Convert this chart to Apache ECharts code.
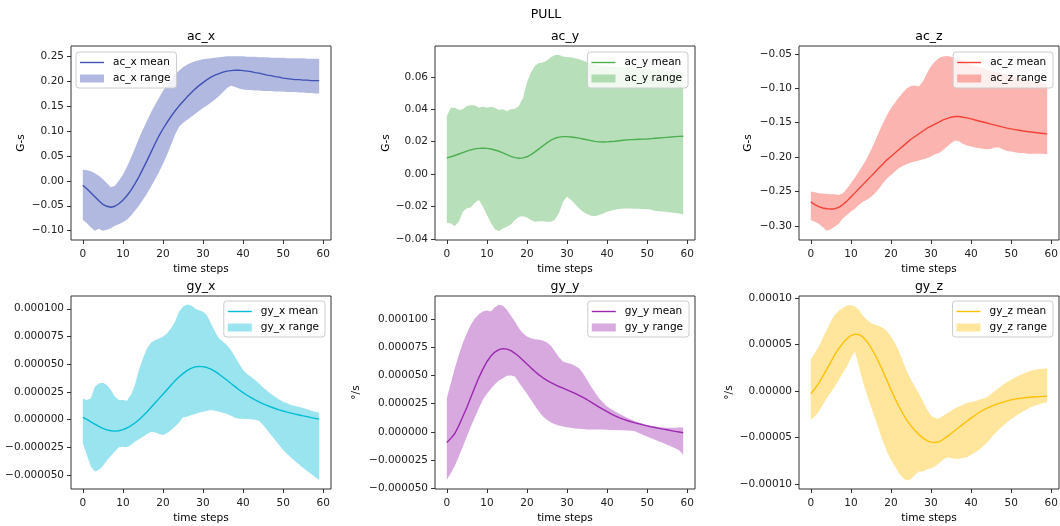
<!DOCTYPE html>
<html><head><meta charset="utf-8">
<script src="https://cdn.jsdelivr.net/npm/echarts@6.0.0/dist/echarts.min.js"></script>
<style>html,body{margin:0;padding:0;background:#fff}#c{width:1060px;height:526px}</style>
</head><body><div id="c"></div>
<script>
// ---------------- data ----------------
const steps = [0,1,2,3,4,5,6,7,8,9,10,11,12,13,14,15,16,17,18,19,20,21,22,23,24,25,26,27,28,29,30,31,32,33,34,35,36,37,38,39,40,41,42,43,44,45,46,47,48,49,50,51,52,53,54,55,56,57,58,59];
const xTicks = [0,10,20,30,40,50,60];

// ac_x (G-s)
const acx_mean = [-0.009,-0.016,-0.024,-0.032,-0.040,-0.047,-0.051,-0.053,-0.051,-0.046,
 -0.039,-0.030,-0.019,-0.006,0.008,0.024,0.040,0.057,0.074,0.090,
 0.104,0.117,0.129,0.140,0.150,0.159,0.168,0.176,0.184,0.191,
 0.197,0.203,0.208,0.212,0.215,0.218,0.220,0.221,0.222,0.222,
 0.221,0.220,0.219,0.217,0.216,0.214,0.212,0.211,0.209,0.208,
 0.206,0.205,0.204,0.203,0.203,0.202,0.202,0.201,0.201,0.201];
const acx_upper = [0.022,0.021,0.019,0.015,0.010,0.003,-0.005,-0.013,-0.010,0.000,
 0.012,0.028,0.046,0.065,0.085,0.103,0.120,0.137,0.152,0.166,
 0.180,0.192,0.203,0.213,0.221,0.228,0.233,0.237,0.240,0.242,
 0.244,0.245,0.246,0.247,0.248,0.249,0.250,0.250,0.250,0.250,
 0.250,0.249,0.249,0.249,0.248,0.248,0.248,0.247,0.247,0.247,
 0.247,0.246,0.246,0.246,0.246,0.246,0.245,0.245,0.245,0.245];
const acx_lower = [-0.078,-0.085,-0.093,-0.100,-0.096,-0.100,-0.098,-0.095,-0.090,-0.087,
 -0.083,-0.078,-0.070,-0.060,-0.050,-0.038,-0.026,-0.012,0.002,0.017,
 0.034,0.052,0.072,0.092,0.108,0.116,0.122,0.128,0.134,0.140,
 0.146,0.151,0.157,0.163,0.170,0.178,0.186,0.191,0.188,0.185,
 0.183,0.182,0.182,0.181,0.181,0.180,0.180,0.180,0.179,0.179,
 0.179,0.178,0.178,0.178,0.177,0.177,0.176,0.176,0.175,0.175];

// ac_y (G-s)
const acy_mean = [0.0100,0.0107,0.0115,0.0124,0.0133,0.0142,0.0150,0.0156,0.0159,0.0160,
 0.0159,0.0155,0.0149,0.0141,0.0131,0.0120,0.0110,0.0102,0.0098,0.0100,
 0.0107,0.0120,0.0137,0.0156,0.0175,0.0193,0.0209,0.0221,0.0228,0.0231,
 0.0231,0.0229,0.0226,0.0222,0.0217,0.0212,0.0207,0.0202,0.0199,0.0198,
 0.0199,0.0201,0.0203,0.0206,0.0209,0.0211,0.0213,0.0214,0.0215,0.0216,
 0.0217,0.0219,0.0221,0.0223,0.0225,0.0227,0.0229,0.0231,0.0233,0.0234];
const acy_upper = [0.0358,0.0410,0.0410,0.0395,0.0400,0.0420,0.0424,0.0424,0.0410,0.0416,
 0.0410,0.0416,0.0410,0.0395,0.0400,0.0390,0.0400,0.0403,0.0420,0.0470,
 0.0565,0.0627,0.0668,0.0685,0.0689,0.0700,0.0720,0.0734,0.0734,0.0726,
 0.0720,0.0720,0.0714,0.0708,0.0700,0.0690,0.0680,0.0675,0.0670,0.0668,
 0.0666,0.0664,0.0662,0.0660,0.0658,0.0656,0.0654,0.0652,0.0650,0.0648,
 0.0646,0.0644,0.0642,0.0640,0.0638,0.0636,0.0634,0.0632,0.0630,0.0628];
const acy_lower = [-0.0300,-0.0304,-0.0320,-0.0294,-0.0232,-0.0210,-0.0205,-0.0176,-0.0160,-0.0200,
 -0.0250,-0.0300,-0.0340,-0.0350,-0.0335,-0.0325,-0.0310,-0.0283,-0.0263,-0.0260,
 -0.0267,-0.0283,-0.0294,-0.0290,-0.0290,-0.0294,-0.0294,-0.0280,-0.0240,-0.0170,
 -0.0139,-0.0160,-0.0184,-0.0210,-0.0232,-0.0246,-0.0256,-0.0260,-0.0252,-0.0242,
 -0.0232,-0.0225,-0.0220,-0.0215,-0.0212,-0.0212,-0.0212,-0.0213,-0.0214,-0.0215,
 -0.0217,-0.0220,-0.0225,-0.0228,-0.0230,-0.0233,-0.0236,-0.0240,-0.0243,-0.0248];

// ac_z (G-s)
const acz_mean = [-0.265,-0.269,-0.272,-0.274,-0.275,-0.2755,-0.275,-0.273,-0.269,-0.264,
 -0.258,-0.252,-0.246,-0.240,-0.234,-0.228,-0.222,-0.216,-0.210,-0.204,
 -0.199,-0.194,-0.189,-0.184,-0.179,-0.174,-0.170,-0.166,-0.162,-0.158,
 -0.155,-0.152,-0.149,-0.146,-0.144,-0.142,-0.141,-0.141,-0.142,-0.143,
 -0.1445,-0.146,-0.1475,-0.149,-0.1505,-0.152,-0.1535,-0.155,-0.1565,-0.1578,
 -0.159,-0.160,-0.161,-0.162,-0.1628,-0.1635,-0.1642,-0.1649,-0.1656,-0.1663];
const acz_upper = [-0.250,-0.251,-0.2525,-0.253,-0.2535,-0.254,-0.254,-0.255,-0.2525,-0.246,
 -0.238,-0.230,-0.221,-0.212,-0.2016,-0.190,-0.1774,-0.164,-0.1508,-0.139,
 -0.129,-0.121,-0.113,-0.106,-0.100,-0.0965,-0.096,-0.0975,-0.090,-0.078,
 -0.068,-0.061,-0.056,-0.0539,-0.053,-0.054,-0.056,-0.058,-0.060,-0.063,
 -0.066,-0.068,-0.069,-0.071,-0.073,-0.074,-0.076,-0.077,-0.079,-0.080,
 -0.082,-0.083,-0.085,-0.086,-0.087,-0.089,-0.090,-0.091,-0.093,-0.094];
const acz_lower = [-0.2913,-0.294,-0.297,-0.302,-0.307,-0.305,-0.301,-0.297,-0.289,-0.284,
 -0.279,-0.275,-0.2695,-0.265,-0.262,-0.258,-0.2525,-0.246,-0.238,-0.231,
 -0.226,-0.221,-0.216,-0.213,-0.210,-0.208,-0.2065,-0.205,-0.203,-0.2015,
 -0.199,-0.196,-0.194,-0.190,-0.1847,-0.180,-0.176,-0.177,-0.181,-0.183,
 -0.1847,-0.186,-0.187,-0.188,-0.1886,-0.188,-0.186,-0.186,-0.189,-0.191,
 -0.192,-0.193,-0.194,-0.194,-0.195,-0.195,-0.195,-0.195,-0.195,-0.196];

// gyroscope values in micro-units (x 1e-6 °/s)
const gyx_mean = [2.1,0.2,-2.0,-4.0,-6.0,-7.8,-9.2,-10.0,-10.3,-10.0,
 -9.0,-7.5,-5.5,-3.0,0.0,3.3,7.0,11.0,15.0,19.0,
 23.0,27.0,31.0,35.0,38.5,41.5,44.2,46.2,47.6,48.0,
 47.8,47.0,45.6,43.5,41.0,38.3,35.5,32.6,29.8,27.0,
 24.4,22.0,19.8,17.8,16.0,14.3,12.8,11.4,10.1,8.9,
 7.8,6.8,5.9,5.0,4.2,3.4,2.7,1.9,1.2,0.5];
const gyx_upper = [19.2,17.7,19.2,29.7,32.7,33.3,31.2,26.7,20.7,17.7,
 17.7,17.1,22.2,31.2,44.7,55.2,64.2,69.3,71.7,73.2,
 74.7,77.7,82.2,88.2,97.2,101.7,103.8,103.2,100.2,98.7,
 97.2,94.2,86.7,79.2,73.2,70.2,67.2,62.7,56.7,50.7,
 44.7,41.1,38.7,35.7,32.7,29.1,26.1,23.1,20.7,18.3,
 16.2,14.7,13.2,12.3,11.4,10.5,9.3,8.1,7.2,6.3];
const gyx_lower = [-21.3,-31.8,-42.3,-46.8,-45.3,-41.7,-36.9,-32.7,-28.8,-24.9,
 -24.3,-24.9,-22.8,-19.8,-17.7,-15.3,-12.9,-11.1,-11.4,-12.9,
 -13.8,-12.3,-9.3,-6.3,-2.7,2.1,2.7,3.9,5.1,6.3,
 7.2,8.1,8.7,8.1,7.2,6.3,5.1,3.6,1.8,0.9,
 0.9,0.6,0.3,0.0,-0.9,-4.8,-9.3,-13.8,-18.3,-22.8,
 -27.3,-30.9,-34.2,-37.5,-40.5,-43.5,-46.2,-48.9,-51.6,-54.3];

const gyy_mean = [-9.4,-5.8,-1.5,5.5,13.5,21.5,30.5,39.5,48.0,55.5,
 62.0,67.0,70.6,72.8,73.6,73.2,71.8,69.5,66.6,63.3,
 60.0,56.6,53.4,50.4,47.8,45.6,43.6,41.8,40.1,38.6,
 37.1,35.6,34.0,32.3,30.4,28.4,26.3,24.1,21.9,19.8,
 17.8,15.9,14.2,12.6,11.2,10.0,8.9,7.9,7.0,6.1,
 5.3,4.5,3.8,3.1,2.4,1.8,1.1,0.4,-0.2,-0.8];
const gyy_upper = [29.8,43.0,56.3,68.1,78.5,87.3,94.7,100.6,104.1,106.5,
 107.4,106.5,110.3,112.4,111.5,108.0,102.7,97.6,91.7,87.3,
 84.4,82.9,82.0,81.4,80.8,79.1,76.1,71.1,66.1,62.2,
 60.8,60.2,58.4,56.3,51.9,46.0,40.1,34.8,29.8,26.0,
 22.4,20.1,18.0,15.9,14.2,12.4,10.9,9.4,8.3,7.1,
 5.9,5.0,4.4,4.1,3.8,3.5,3.5,3.5,3.8,3.8];
const gyy_lower = [-42.5,-36.6,-30.1,-21.8,-13.0,-4.1,4.7,13.0,20.9,28.3,
 33.6,38.1,42.2,45.4,47.5,49.6,49.9,49.0,43.7,38.6,
 33.6,28.3,23.0,18.0,13.6,10.6,8.3,6.8,5.6,4.7,
 4.1,3.5,3.0,2.7,2.4,2.1,2.1,2.1,2.1,2.1,
 1.8,1.7,1.6,1.5,1.4,1.2,1.0,0.6,-1.2,-2.7,
 -4.1,-5.6,-7.1,-8.6,-10.0,-11.5,-13.0,-14.5,-16.2,-20.4];

const gyz_mean = [-2.9,2.5,8.6,16.0,23.7,31.5,39.1,45.8,51.6,56.3,
 59.6,61.2,60.8,58.2,53.4,47.0,39.3,30.6,21.3,11.5,
 1.6,-7.8,-16.5,-24.5,-31.5,-37.4,-42.3,-46.8,-50.5,-53.2,
 -54.8,-55.2,-54.5,-52.0,-48.9,-45.6,-42.3,-38.9,-35.5,-32.2,
 -29.0,-25.9,-23.0,-20.5,-18.3,-16.4,-14.7,-13.2,-11.8,-10.5,
 -9.4,-8.6,-7.9,-7.3,-6.8,-6.4,-6.1,-5.9,-5.7,-5.4];
const gyz_upper = [34.4,40.9,48.0,57.0,65.9,74.9,82.0,86.4,89.2,91.8,
 92.5,91.0,87.4,81.0,76.7,73.1,71.3,70.2,67.7,64.2,
 58.8,51.6,42.7,31.9,21.1,12.2,5.0,-2.9,-11.1,-19.4,
 -26.5,-29.0,-29.4,-26.5,-23.7,-21.1,-18.3,-16.5,-14.7,-12.9,
 -11.8,-10.8,-9.3,-7.9,-6.5,-3.2,0.4,3.6,6.8,9.7,
 12.2,14.7,16.8,18.6,20.4,21.9,22.9,23.7,24.0,24.4];
const gyz_lower = [-30.8,-27.2,-21.9,-14.7,-7.5,-1.4,5.0,12.2,19.4,26.5,
 35.5,42.7,26.5,10.4,-3.9,-16.5,-29.0,-41.6,-54.1,-64.9,
 -73.8,-81.0,-88.2,-93.5,-96.0,-94.6,-90.0,-86.4,-86.4,-83.9,
 -82.8,-81.0,-77.4,-73.8,-71.3,-72.0,-72.8,-72.8,-72.0,-71.0,
 -68.5,-65.9,-63.1,-59.5,-55.2,-50.5,-45.2,-40.9,-37.3,-33.7,
 -30.1,-27.2,-24.4,-21.9,-19.4,-17.2,-15.4,-14.0,-12.9,-12.2];

// tick labels
const yTicks_acx = [-0.10,-0.05,0.00,0.05,0.10,0.15,0.20,0.25];
const yTicks_acy = [-0.04,-0.02,0.00,0.02,0.04,0.06];
const yTicks_acz = [-0.30,-0.25,-0.20,-0.15,-0.10,-0.05];
const yTicks_gyx = [-50,-25,0,25,50,75,100];   // x 1e-6
const yTicks_gyy = [-50,-25,0,25,50,75,100];   // x 1e-6
const yTicks_gyz = [-100,-50,0,50,100];        // x 1e-6

// ---------------- presentation ----------------
const FONT = 'DejaVu Sans';
const minus = v => (v < -1e-12 ? '\u2212' : '');
const fmt = (scale, dec) => v => minus(v) + (Math.abs(v) * scale).toFixed(dec);
const LINE_ICON = 'path://M0,0 M0,3.3 L24,3.3 L24,4.7 L0,4.7 Z M24,8';

const panels = [
  {title:'ac_x', mean:acx_mean, lo:acx_lower, hi:acx_upper, ticks:yTicks_acx, fmt:fmt(1,2), unit:'G-s',
   color:'#3f51b5', fill:'rgba(63,81,181,0.4)', ymin:-0.1187, ymax:0.2705,
   box:{left:71, top:46, width:260, height:194}, legend:{left:76, top:52}, nameGap:44},
  {title:'ac_y', mean:acy_mean, lo:acy_lower, hi:acy_upper, ticks:yTicks_acy, fmt:fmt(1,2), unit:'G-s',
   color:'#4caf50', fill:'rgba(76,175,80,0.4)', ymin:-0.0406, ymax:0.0790,
   box:{left:435, top:46, width:260, height:194}, legend:{right:372, top:52}, nameGap:43},
  {title:'ac_z', mean:acz_mean, lo:acz_lower, hi:acz_upper, ticks:yTicks_acz, fmt:fmt(1,2), unit:'G-s',
   color:'#f44336', fill:'rgba(244,67,54,0.4)', ymin:-0.3205, ymax:-0.0385,
   box:{left:799, top:46, width:260, height:194}, legend:{right:7, top:52}, nameGap:45},
  {title:'gy_x', mean:gyx_mean, lo:gyx_lower, hi:gyx_upper, ticks:yTicks_gyx, fmt:fmt(1e-6,6), unit:'\u00b0/s',
   color:'#00bcd4', fill:'rgba(0,188,212,0.4)', ymin:-62.5, ymax:111.5,
   box:{left:71, top:296, width:260, height:193}, legend:{right:735, top:301}, nameGap:74},
  {title:'gy_y', mean:gyy_mean, lo:gyy_lower, hi:gyy_upper, ticks:yTicks_gyy, fmt:fmt(1e-6,6), unit:'\u00b0/s',
   color:'#9c27b0', fill:'rgba(156,39,176,0.4)', ymin:-50.6, ymax:120.2,
   box:{left:435, top:296, width:260, height:193}, legend:{right:371, top:301}, nameGap:73},
  {title:'gy_z', mean:gyz_mean, lo:gyz_lower, hi:gyz_upper, ticks:yTicks_gyz, fmt:fmt(1e-6,5), unit:'\u00b0/s',
   color:'#ffc107', fill:'rgba(255,193,7,0.4)', ymin:-105.2, ymax:102.2,
   box:{left:799, top:296, width:260, height:193}, legend:{right:7, top:301}, nameGap:64}
];

const grid = [], xAxis = [], yAxis = [], series = [], legend = [];
const title = [{text:'PULL', left:546, top:8, textAlign:'center', padding:0,
  textStyle:{fontFamily:FONT, fontSize:12.5, fontWeight:'normal', color:'#000'}}];

panels.forEach((p, i) => {
  grid.push(Object.assign({show:true, borderColor:'#333', borderWidth:1, backgroundColor:'transparent',
    containLabel:false, outerBoundsMode:'none'}, p.box));
  title.push({text:p.title, left:p.box.left + p.box.width/2, top:p.box.top - 16, textAlign:'center', padding:0,
    textStyle:{fontFamily:FONT, fontSize:12.5, fontWeight:'normal', color:'#000'}});
  xAxis.push({type:'value', gridIndex:i, min:-2.95, max:61.95,
    name:'time steps', nameLocation:'middle', nameGap:24,
    nameTextStyle:{fontFamily:FONT, fontSize:10.6, color:'#000'},
    axisLine:{show:false, onZero:false}, splitLine:{show:false},
    axisTick:{show:true, customValues:xTicks, length:4, lineStyle:{color:'#333'}},
    axisLabel:{customValues:xTicks, margin:9, fontFamily:FONT, fontSize:10.5, color:'#222'}});
  yAxis.push({type:'value', gridIndex:i, min:p.ymin, max:p.ymax,
    name:p.unit, nameLocation:'middle', nameGap:p.nameGap,
    nameTextStyle:{fontFamily:FONT, fontSize:10.6, color:'#000'},
    axisLine:{show:false, onZero:false}, splitLine:{show:false},
    axisTick:{show:true, customValues:p.ticks, length:4, lineStyle:{color:'#333'}},
    axisLabel:{customValues:p.ticks, formatter:p.fmt, margin:7, fontFamily:FONT, fontSize:10.5, color:'#222'}});
  const pts = steps.map((t, k) => [t, p.lo[k], p.hi[k]]);
  series.push({type:'custom', name:p.title + ' range', xAxisIndex:i, yAxisIndex:i,
    data:pts, encode:{x:0, y:[1,2]}, itemStyle:{color:p.fill}, silent:true, clip:true, z:2,
    renderItem:(params, api) => {
      if (params.dataIndex !== 0) return null;
      const upper = pts.map(d => api.coord([d[0], d[2]]));
      const lower = pts.map(d => api.coord([d[0], d[1]])).reverse();
      return {type:'polygon', shape:{points:upper.concat(lower)}, style:{fill:p.fill}};
    }});
  series.push({type:'line', name:p.title + ' mean', xAxisIndex:i, yAxisIndex:i,
    data:steps.map((t, k) => [t, p.mean[k]]), symbol:'none', showSymbol:false,
    itemStyle:{color:p.color}, lineStyle:{color:p.color, width:1.4}, silent:true, z:3});
  legend.push(Object.assign({orient:'vertical', align:'left', itemWidth:24, itemHeight:8, itemGap:5,
    padding:[5,6,4,4], backgroundColor:'rgba(255,255,255,0.8)', borderColor:'#cccccc', borderWidth:1,
    borderRadius:3, selectedMode:false, z:10,
    textStyle:{fontFamily:FONT, fontSize:10.5, color:'#000', padding:[0,0,0,4]},
    data:[{name:p.title + ' mean', icon:LINE_ICON, itemStyle:{color:p.color, borderWidth:0}},
          {name:p.title + ' range', icon:'rect', itemStyle:{color:p.fill, borderWidth:0}}]},
    p.legend));
});

const chart = echarts.init(document.getElementById('c'), null, {renderer:'canvas'});
chart.setOption({animation:false, backgroundColor:'#fff', title, grid, xAxis, yAxis, series, legend});
</script></body></html>
